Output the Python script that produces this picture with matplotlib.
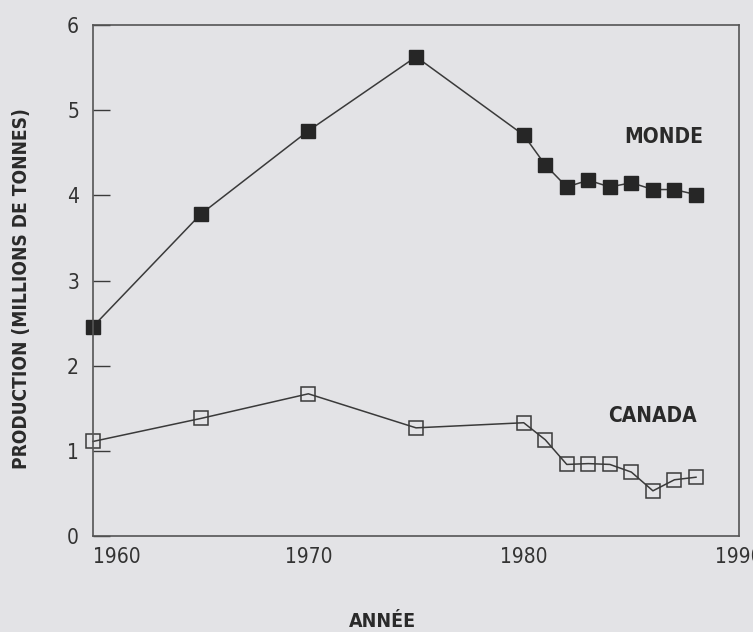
"""Production mondiale et canadienne, 1960-1988."""

import matplotlib
matplotlib.use("Agg")
import matplotlib.pyplot as plt

years = [1960, 1965, 1970, 1975, 1980, 1981, 1982, 1983, 1984, 1985, 1986, 1987, 1988]
monde = [2.46, 3.78, 4.76, 5.63, 4.71, 4.36, 4.10, 4.18, 4.10, 4.15, 4.07, 4.07, 4.01]
canada = [1.11, 1.38, 1.67, 1.27, 1.33, 1.13, 0.84, 0.85, 0.84, 0.75, 0.53, 0.66, 0.69]

x_ticks = [1960, 1970, 1980, 1990]
y_ticks = [0, 1, 2, 3, 4, 5, 6]

BG = "#e3e3e6"
INK = "#3a3a3a"

fig = plt.figure(figsize=(7.53, 6.32), dpi=100, facecolor=BG)
ax = fig.add_axes([0.1235, 0.152, 0.858, 0.808], facecolor=BG)

ax.plot(years, monde, color=INK, linewidth=1.1, marker="s", markersize=10.5,
        markerfacecolor="#262626", markeredgecolor="#262626", clip_on=False)
ax.plot(years, canada, color=INK, linewidth=1.1, marker="s", markersize=10.5,
        markerfacecolor="none", markeredgecolor=INK, markeredgewidth=1.1, clip_on=False)

txt = dict(fontweight="bold", color="#2a2a2a", fontstretch="condensed")
ax.text(1986.5, 4.69, "MONDE", ha="center", va="center", fontsize=15, **txt)
ax.text(1986.0, 1.41, "CANADA", ha="center", va="center", fontsize=15, **txt)

ax.set_xlim(1960, 1990)
ax.set_ylim(0, 6)
ax.set_xticks(x_ticks)
ax.set_yticks(y_ticks)
ax.tick_params(axis="y", direction="in", length=12, width=1, color=INK, pad=10)
ax.tick_params(axis="x", length=0, pad=8)
for lbl in ax.get_xticklabels() + ax.get_yticklabels():
    lbl.set_fontstretch("condensed")
    lbl.set_fontweight("light")
    lbl.set_fontsize(15)
    lbl.set_color("#333333")
ax.get_xticklabels()[0].set_horizontalalignment("left")

for side in ax.spines.values():
    side.set_color("#555555")
    side.set_linewidth(1.2)

fig.text(0.508, 0.002, "ANNÉE", ha="center", va="bottom", fontsize=14, **txt)
fig.text(0.028, 0.543, "PRODUCTION (MILLIONS DE TONNES)", ha="center", va="center",
         rotation=90, fontsize=13.7, **txt)

fig.savefig("out.png", dpi=100, facecolor=BG)
